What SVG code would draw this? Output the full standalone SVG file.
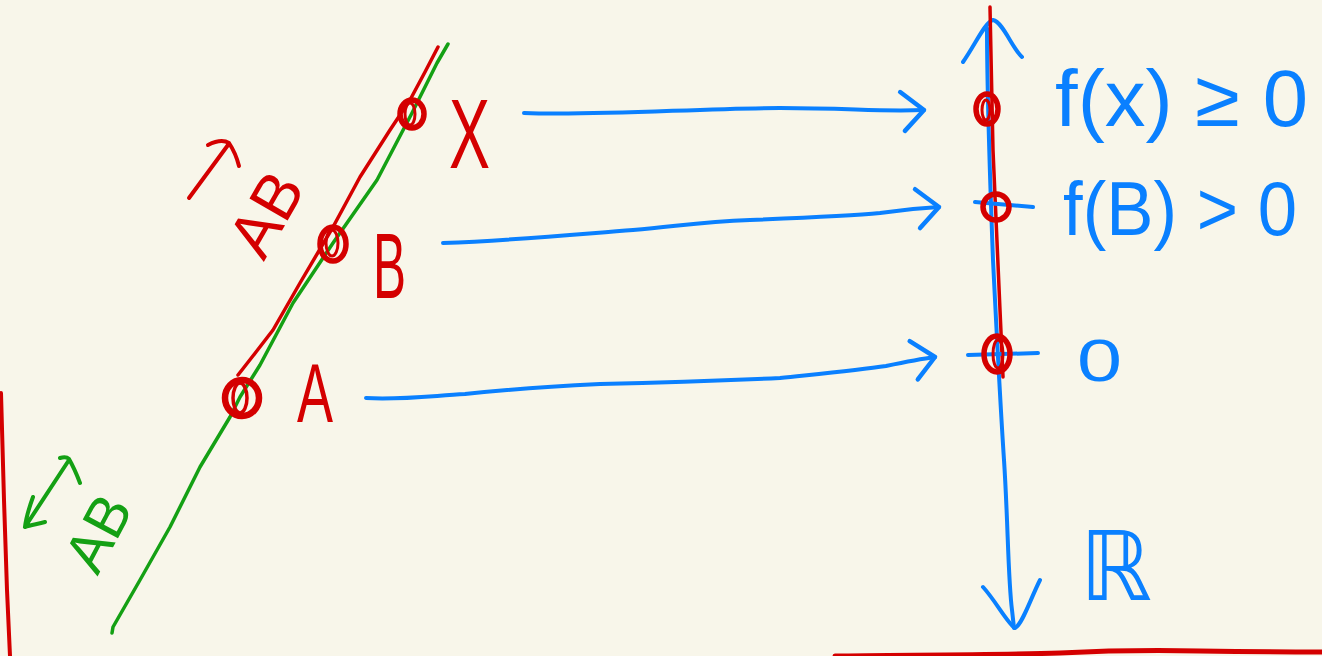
<svg xmlns="http://www.w3.org/2000/svg" width="1322" height="656" viewBox="0 0 1322 656">
<style>
.red{stroke:#d40000;fill:none;stroke-linecap:round;stroke-linejoin:round}
.green{stroke:#14a014;fill:none;stroke-linecap:round;stroke-linejoin:round}
.blue{stroke:#0a80ff;fill:none;stroke-linecap:round;stroke-linejoin:round}
.tr{fill:#d40000;font-family:"Liberation Sans","DejaVu Sans",sans-serif}
.tg{fill:#14a014;font-family:"Liberation Sans","DejaVu Sans",sans-serif}
.tb{fill:#0a80ff;font-family:"Liberation Sans","DejaVu Sans",sans-serif}
</style>
<defs>
<marker id="head" viewBox="0 0 32 46" refX="28" refY="22" markerWidth="32" markerHeight="46" markerUnits="userSpaceOnUse" orient="auto">
<path d="M5,3 L28,22 L8,42" fill="none" stroke="#0a80ff" stroke-width="4.5" stroke-linecap="round" stroke-linejoin="round"/>
</marker>
</defs>
<rect width="1322" height="656" fill="#f8f6ea"/>

<g id="frame">
<path class="red" stroke-width="4" d="M1,393 L4,500 L7,590 L10,656"/>
<path class="red" stroke-width="5" d="M835,656 C900,655 1000,655 1060,653 C1100,651 1150,650 1200,651 C1260,652 1300,652 1322,652"/>
</g>

<g id="line-AB">
<polyline class="green" stroke-width="3.5" points="112,633 113,627 140,580 170,527 200,467 230,417 240,397 260,365 293,303 333,243 377,180 412,113 437,63 448,44"/>
</g>

<g id="ray-AB">
<polyline class="red" stroke-width="3.5" points="238,375 256,352 273,330 300,283 333,227 360,177 390,130 410,100 425,72 438,47"/>
</g>

<g id="point-X">
<ellipse class="red" stroke-width="5.5" cx="412" cy="114" rx="12" ry="14"/>
<ellipse class="red" stroke-width="3" cx="410" cy="114" rx="5" ry="11"/>
<text class="tr" x="449" y="168" font-size="98" textLength="41" lengthAdjust="spacingAndGlyphs">X</text>
</g>

<g id="point-B">
<ellipse class="red" stroke-width="5.5" cx="333" cy="244" rx="13" ry="17"/>
<ellipse class="red" stroke-width="3" cx="332" cy="243" rx="6" ry="13"/>
<text class="tr" x="373" y="298" font-size="92" textLength="33" lengthAdjust="spacingAndGlyphs">B</text>
</g>

<g id="point-A">
<ellipse class="red" stroke-width="6.5" cx="242" cy="398" rx="17" ry="18"/>
<ellipse class="red" stroke-width="3.5" cx="240" cy="398" rx="7" ry="15"/>
<text class="tr" x="297" y="422" font-size="84" textLength="36" lengthAdjust="spacingAndGlyphs">A</text>
</g>

<g id="label-vector-AB">
<path class="red" stroke-width="4" d="M189,198 L228,145 M208,145 C216,141 224,140 229,143 C233,149 237,158 239,166"/>
<text class="tr" transform="translate(266,214) rotate(-60)" x="0" y="22" font-size="64" text-anchor="middle">AB</text>
</g>

<g id="label-line-AB">
<path class="green" stroke-width="4" d="M25,527 L69,460 M33,497 C29,508 26,518 25,527 C31,525 38,524 45,522 M60,458 C63,457 66,456 69,459 C73,466 77,475 80,483"/>
<text class="tg" transform="translate(98,533) rotate(-62)" x="0" y="20" font-size="58" text-anchor="middle">AB</text>
</g>

<g id="axis-R">
<path class="blue" stroke-width="4" d="M987,28 C987,80 990,180 993,260 C997,340 1000,400 1004,460 C1008,520 1008,580 1012,610 L1014,628"/>
<path class="blue" stroke-width="4" d="M963,62 C975,45 985,22 993,20 C1003,22 1012,48 1022,57"/>
<path class="blue" stroke-width="4" d="M983,587 C995,600 1008,624 1015,628 C1022,625 1030,600 1040,580"/>
<path class="red" stroke-width="3.5" d="M990,7 C991,60 992,100 993,150 C995,200 998,260 1000,310 L1003,377"/>
<path class="blue" stroke-width="4" d="M975,202 L1033,207"/>
<path class="blue" stroke-width="4" d="M968,355 L1038,353"/>
<text class="tb" x="1080" y="600" font-size="96" textLength="72" lengthAdjust="spacingAndGlyphs" font-family="'DejaVu Sans',sans-serif">ℝ</text>
</g>

<g id="value-fX">
<ellipse class="red" stroke-width="5.5" cx="987" cy="109" rx="11" ry="15"/>
<ellipse class="red" stroke-width="3" cx="986" cy="110" rx="4" ry="10"/>
<text class="tb" x="1055" y="126" font-size="80" textLength="253" lengthAdjust="spacingAndGlyphs">f(x) ≥ 0</text>
</g>

<g id="value-fB">
<ellipse class="red" stroke-width="5.5" cx="996" cy="207" rx="13" ry="13"/>
<text class="tb" x="1063" y="235" font-size="76" textLength="234" lengthAdjust="spacingAndGlyphs">f(B) &gt; 0</text>
</g>

<g id="value-0">
<ellipse class="red" stroke-width="5.5" cx="997" cy="354" rx="13" ry="18"/>
<ellipse class="red" stroke-width="3" cx="998" cy="354" rx="5" ry="14"/>
<text class="tb" x="1077" y="381" font-size="60" textLength="45" lengthAdjust="spacingAndGlyphs">0</text>
</g>

<g id="connectors">
<path class="blue" stroke-width="4" marker-end="url(#head)" d="M524,113 C600,116 700,108 780,108 C850,108 880,112 924,110"/>
<path class="blue" stroke-width="4" marker-end="url(#head)" d="M443,243 C520,240 580,234 633,230 C680,226 700,222 750,220 C800,218 850,216 880,213 C900,210 920,208 939,207"/>
<path class="blue" stroke-width="4" marker-end="url(#head)" d="M366,398 C400,400 430,396 465,394 C520,388 560,386 600,384 C680,382 733,380 780,378 C828,373 860,370 886,366 C905,362 920,359 935,357"/>
</g>
</svg>
